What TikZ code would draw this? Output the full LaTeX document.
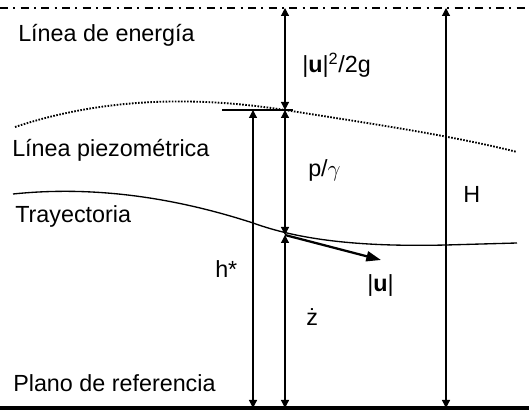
\documentclass[tikz,border=0pt]{standalone}
\usepackage{fontspec}
\setmainfont{Liberation Sans}
\usetikzlibrary{arrows.meta}

\begin{document}
\begin{tikzpicture}[x=0.75pt,y=-0.75pt,
  txt/.style={anchor=base west,inner sep=0pt,font=\fontsize{17.5}{20}\selectfont},
  dim/.style={{Triangle[length=6pt,width=6pt]}-{Triangle[length=6pt,width=6pt]},line width=0.9pt},
  head/.style={dash pattern=on 6pt off 4pt on 1.5pt off 4pt,line width=1.1pt},
  piezo/.style={dash pattern=on 1.2pt off 1.1pt,line width=1.4pt},
  vel/.style={-{Triangle[length=11pt,width=7.5pt]},line width=1.7pt}
]
\useasboundingbox (0,0) rectangle (529,413);
% reference lines
\draw[head] (0,8) -- (529,8);
\draw[line width=3.5pt] (0,408) -- (529,408);
\draw[piezo] (15,127) .. controls (120,92) and (220,100) .. (285,110)
  .. controls (360,122) and (450,135) .. (517,152);
\draw[line width=1pt] (13,194) .. controls (90,186) and (170,196) .. (253,223)
  .. controls (300,240) and (360,247) .. (446,245) -- (517,243);
\draw[line width=0.9pt] (222,110) -- (293,110);
% points
\coordinate (eA) at (285,8);
\coordinate (pA) at (285,110);
\coordinate (tA) at (285,235);
\coordinate (gA) at (285,408);
\coordinate (pH) at (253,110);
\coordinate (gH) at (253,408);
\coordinate (eT) at (446,8);
\coordinate (gT) at (446,408);
\coordinate (uT) at (381,260);
% labels
\node[txt] (energia) at (18,42) {Línea de energía};
\node[txt] (piezom) at (12,157) {Línea piezométrica};
\node[txt] (trayec) at (15,223) {Trayectoria};
\node[txt] (plano) at (13,392) {Plano de referencia};
\node[txt] (vhead) at (302,73) {|\textbf{u}|\textsuperscript{2}/2g};
\node[txt] (phead) at (308,177) {p/$\gamma$};
\node[txt] (zhead) at (306,326) {ż};
\node[txt] (hstar) at (215,278) {h*};
\node[txt] (htot) at (463,203) {H};
\node[txt] (umod) at (367,292) {|\textbf{u}|};
% dimensions
\draw[dim] (eA) -- (pA);
\draw[dim] (pA) -- (tA);
\draw[dim] (tA) -- (gA);
\draw[dim] (pH) -- (gH);
\draw[dim] (eT) -- (gT);
\draw[vel] (tA) -- (uT);
\end{tikzpicture}
\end{document}
